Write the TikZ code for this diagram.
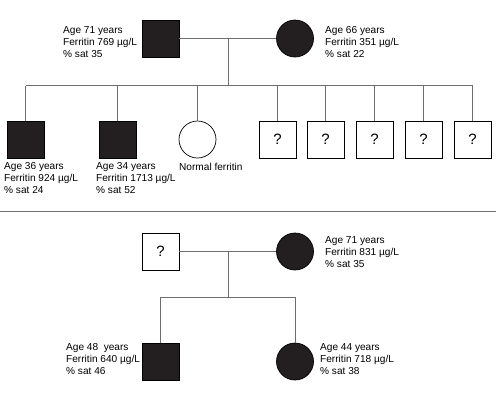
\documentclass[tikz,border=0pt]{standalone}
\usepackage{fontspec}
\setmainfont{Liberation Sans}
\usetikzlibrary{positioning}
\definecolor{symfill}{HTML}{231F20}
\definecolor{linegray}{HTML}{6E6E6E}
\tikzset{
  male/.style={draw=black, line width=0.7pt, minimum size=37pt, inner sep=0pt},
  female/.style={circle, draw=black, line width=0.7pt, minimum size=37pt, inner sep=0pt},
  aff/.style={fill=symfill},
  unknown/.style={male, font=\fontsize{15}{15}\selectfont},
  info/.style={anchor=north west, font=\fontsize{10.1}{12}\selectfont, align=left, inner sep=0pt},
  line/.style={draw=linegray, line width=0.7pt}
}
\begin{document}
\begin{tikzpicture}[x=1pt,y=-1pt]
\useasboundingbox (0,0) rectangle (496,408);

% first family
\node[male,aff] (f1) at (160.5,38.5) {};
\node[female,aff] (m1) at (295,38.5) {};
\coordinate (d1) at (228,38.5);
\coordinate (s1) at (228,85.5);

\node[male,aff] (c1) at (25.5,139.5) {};
\node[male,aff] (c2) at (117.5,139.5) {};
\node[female] (c3) at (197.5,139.5) {};
\node[unknown] (c4) at (277.5,139.5) {?};
\node[unknown] (c5) at (325.5,139.5) {?};
\node[unknown] (c6) at (374.5,139.5) {?};
\node[unknown] (c7) at (423.5,139.5) {?};
\node[unknown] (c8) at (472.5,139.5) {?};

\draw[line] (f1) -- (m1);
\draw[line] (d1) -- (s1);
\draw[line] (c1.north |- s1) -- (c8.north |- s1);
\foreach \c in {c1,c2,c3,c4,c5,c6,c7,c8}
  \draw[line] (\c.north |- s1) -- (\c);

\node[info] (tf1) at (63,26.5) {Age 71 years\\Ferritin 769 µg/L\\\% sat 35};
\node[info] (tm1) at (325,26.5) {Age 66 years\\Ferritin 351 µg/L\\\% sat 22};
\node[info] (tc1) at (4,162.5) {Age 36 years\\Ferritin 924 µg/L\\\% sat 24};
\node[info] (tc2) at (96,162.5) {Age 34 years\\Ferritin 1713 µg/L\\\% sat 52};
\node[info] (tc3) at (179,162.5) {Normal ferritin};

% separator
\coordinate (sepl) at (0,211.5);
\coordinate (sepr) at (496,211.5);
\draw[line,line width=1pt] (sepl) -- (sepr);

% second family
\node[unknown] (f2) at (160.5,251.5) {?};
\node[female,aff] (m2) at (295,251.5) {};
\coordinate (d2) at (228,251.5);
\coordinate (s2) at (228,297);
\node[male,aff] (k1) at (160.5,361.5) {};
\node[female,aff] (k2) at (295,361.5) {};

\draw[line] (f2) -- (m2);
\draw[line] (d2) -- (s2);
\draw[line] (k1.north |- s2) -- (k2.north |- s2);
\draw[line] (k1.north |- s2) -- (k1);
\draw[line] (k2.north |- s2) -- (k2);

\node[info] (tm2) at (325,236.5) {Age 71 years\\Ferritin 831 µg/L\\\% sat 35};
\node[info] (tk1) at (66,343) {Age 48~ years\\Ferritin 640 µg/L\\\% sat 46};
\node[info] (tk2) at (320,343) {Age 44 years\\Ferritin 718 µg/L\\\% sat 38};
\end{tikzpicture}
\end{document}
